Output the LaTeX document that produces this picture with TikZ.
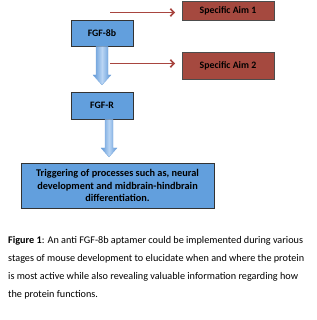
\documentclass[tikz,border=0pt]{standalone}
\usepackage{fontspec}
\setmainfont{Carlito}
\usetikzlibrary{arrows.meta}
\definecolor{boxblue}{HTML}{629FDD}
\definecolor{boxred}{HTML}{A5493F}
\definecolor{arrred}{HTML}{A8453F}
\definecolor{arrlight}{HTML}{B9D5F4}
\definecolor{arrdark}{HTML}{5B95D6}
\tikzset{
  bluebox/.style={draw=black!80, line width=0.7pt, fill=boxblue, font=\bfseries\fontsize{9.8}{12}\selectfont, align=center, inner sep=0pt},
  redbox/.style={draw=black!70, line width=0.7pt, fill=boxred, font=\bfseries\fontsize{9.8}{12}\selectfont, inner sep=0pt},
  redarrow/.style={draw=arrred, line width=1.7pt, -{Straight Barb[length=3.5pt,width=7.5pt]}},
  fatarrow/.style={left color=arrdark, right color=arrdark, middle color=arrlight, draw=arrdark!80, line width=0.3pt},
  caption/.style={anchor=west, font=\fontsize{10.2}{12}\selectfont, inner sep=0pt}
}
\begin{document}
\begin{tikzpicture}[x=1pt,y=-1pt]
\useasboundingbox (0,0) rectangle (316,320);
% boxes
\node[redbox, minimum width=92pt, minimum height=19pt] (aim1) at (228,10.5) {Specific Aim 1};
\node[redbox, minimum width=92pt, minimum height=27pt] (aim2) at (228,65.5) {Specific Aim 2};
\node[bluebox, minimum width=62pt, minimum height=26pt] (fgf8b) at (102,33.5) {FGF-8b};
\node[bluebox, minimum width=62pt, minimum height=27pt] (fgfr) at (102,105.5) {FGF-R};
\node[bluebox, minimum width=193pt, minimum height=45pt, font=\bfseries\fontsize{10.3}{12.3}\selectfont] (trig) at (117.5,185.5) {Triggering of processes such as, neural\\development and midbrain-hindbrain\\differentiation.};
% fat arrows
\draw[fatarrow] (96,46.5) -- (108,46.5) -- (108,75) -- (111,75) -- (102,85) -- (93,75) -- (96,75) -- cycle;
\draw[fatarrow] (105,119.5) -- (113,119.5) -- (113,148) -- (117,148) -- (109,157) -- (101,148) -- (105,148) -- cycle;
% red arrows
\coordinate (r1) at (110,12.5);
\coordinate (e1) at (175,12.5);
\coordinate (r2) at (110,63.5);
\coordinate (e2) at (175,63.5);
\draw[redarrow] (r1) -- (e1);
\draw[redarrow] (r2) -- (e2);
% caption
\node[caption] (c1) at (8,240.5) {\textbf{Figure 1}: An anti FGF-8b aptamer could be implemented during various};
\node[caption] (c2) at (8,258.5) {stages of mouse development to elucidate when and where the protein};
\node[caption] (c3) at (8,276.5) {is most active while also revealing valuable information regarding how};
\node[caption] (c4) at (8,294.5) {the protein functions.};
\end{tikzpicture}
\end{document}
